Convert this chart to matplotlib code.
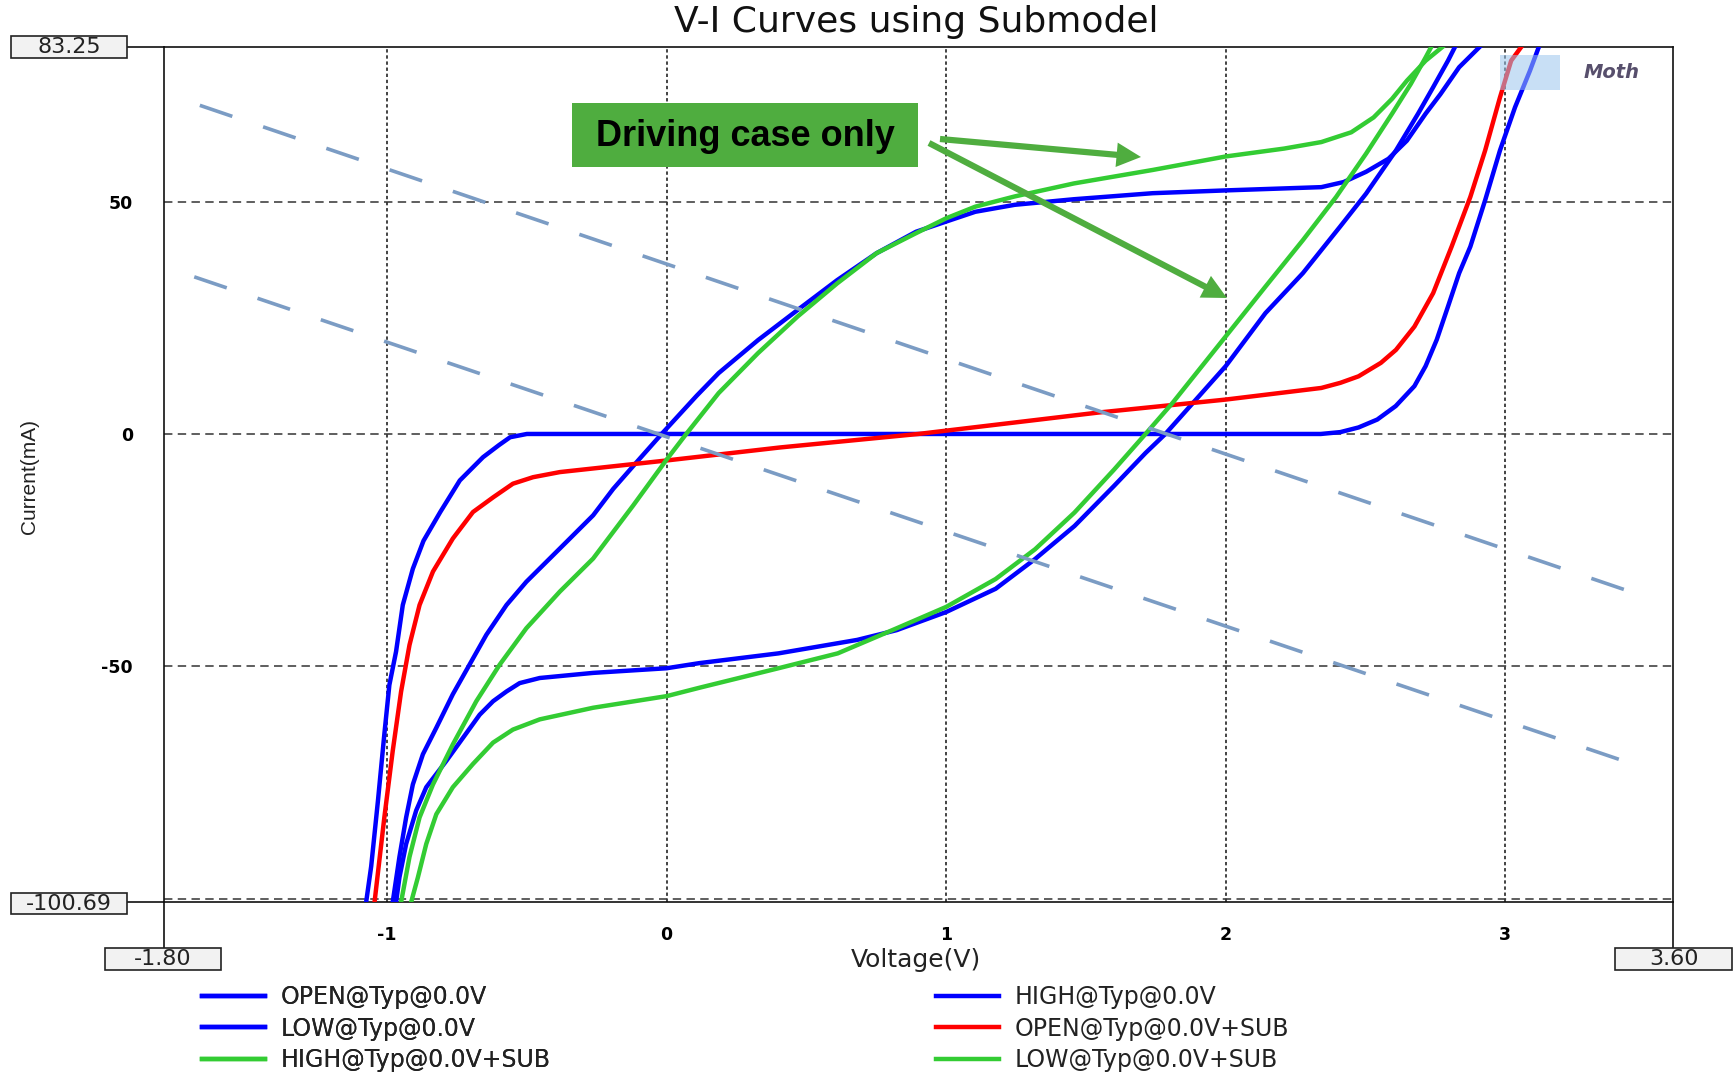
import matplotlib
matplotlib.use("Agg")
import matplotlib.pyplot as plt
from matplotlib.patches import Rectangle, FancyArrowPatch
from matplotlib.lines import Line2D

# ---------------- data ----------------
open_v = [-1.075, -1.057, -1.033, -1.01, -0.992, -0.968, -0.944, -0.908, -0.87, -0.81, -0.74, -0.657,
          -0.60, -0.56, -0.50, 0.0, 1.0, 2.0, 2.34, 2.41, 2.475, 2.542, 2.608, 2.675, 2.715, 2.755, 2.795,
          2.835, 2.875, 2.928, 2.981, 3.035, 3.088, 3.12]
open_i = [-100.7, -93, -79, -64.6, -54, -46.8, -36.8, -29, -23, -16.8, -10, -5,
          -2.4, -0.7, 0, 0, 0, 0, 0, 0.4, 1.4, 3.1, 6, 10.3, 14.6, 20.3, 27.4,
          34.6, 40.3, 50.3, 61, 70.3, 78.1, 83.25]

low_v = [-0.98, -0.956, -0.932, -0.908, -0.872, -0.824, -0.765, -0.705, -0.645, -0.573, -0.502, -0.43,
         -0.358, -0.263, -0.191, -0.108, -0.018, 0.107, 0.186, 0.327, 0.469, 0.61, 0.751, 0.892, 1.0,
         1.104, 1.245, 1.457, 1.739, 2.0, 2.342, 2.422, 2.502, 2.582, 2.648, 2.715, 2.768, 2.835, 2.908]
low_i = [-100.7, -91, -82.5, -75.4, -68.9, -63.2, -56, -49.6, -43.2, -36.8, -31.8, -27.5,
         -23.2, -17.5, -11.8, -6.1, 0, 8.2, 13.1, 20.2, 26.7, 33.1, 38.9, 43.5, 45.7,
         47.8, 49.3, 50.5, 51.8, 52.4, 53.1, 54.2, 56.4, 59.2, 63.1, 68.9, 73.1, 78.9, 83.25]

high_v = [-0.968, -0.956, -0.932, -0.896, -0.86, -0.789, -0.729, -0.669, -0.621, -0.573, -0.526, -0.454,
          -0.263, 0.0, 0.117, 0.4, 0.682, 0.823, 1.0, 1.177, 1.318, 1.459, 1.6, 1.713, 1.784, 2.0,
          2.142, 2.276, 2.409, 2.502, 2.609, 2.688, 2.742, 2.795, 2.82]
high_i = [-100.7, -95.4, -88.2, -81, -76, -70.4, -65.4, -60.4, -57.5, -55.4, -53.6, -52.5,
          -51.4, -50.4, -49.3, -47.2, -44.3, -42.2, -38.3, -33.3, -26.9, -19.8, -11.2, -4.1, 0, 14.6,
          26, 34.6, 44.6, 51.7, 61, 68.9, 74.6, 80.3, 83.25]

open_sub_v = [-1.045, -1.01, -0.98, -0.95, -0.92, -0.884, -0.836, -0.765, -0.693, -0.62, -0.55, -0.478,
              -0.382, 0.0, 0.406, 0.9, 1.543, 2.0, 2.342, 2.41, 2.475, 2.555, 2.609, 2.675, 2.742,
              2.808, 2.875, 2.928, 2.981, 3.021, 3.057]
open_sub_i = [-100.7, -82.5, -68.2, -55.4, -45.4, -36.8, -29.6, -22.5, -16.8, -13.6, -10.7, -9.3,
              -8.2, -5.7, -2.9, 0, 4.6, 7.4, 9.9, 11, 12.4, 15.3, 18.1, 23.1, 30.3,
              40.3, 51, 61, 72.4, 80.3, 83.25]

high_sub_v = [-0.914, -0.89, -0.86, -0.824, -0.765, -0.693, -0.621, -0.55, -0.454, -0.263, 0.0, 0.117,
              0.4, 0.612, 0.823, 1.0, 1.177, 1.318, 1.459, 1.6, 1.713, 1.81, 2.0, 2.142, 2.276,
              2.395, 2.502, 2.595, 2.662, 2.715, 2.735]
high_sub_i = [-100.7, -95.4, -88.2, -81.8, -76, -71, -66.4, -63.6, -61.4, -58.9, -56.4, -54.6,
              -50.4, -47.2, -41.8, -37.2, -31.2, -24.8, -16.9, -7.7, 0, 6.7, 21, 31.7, 41.7,
              51, 60.3, 68.9, 75.3, 81, 83.25]

low_sub_v = [-0.95, -0.92, -0.884, -0.836, -0.765, -0.681, -0.597, -0.502, -0.382, -0.263, -0.12, 0.0,
             0.07, 0.186, 0.327, 0.469, 0.61, 0.751, 0.892, 1.0, 1.104, 1.245, 1.457, 1.739, 2.0,
             2.209, 2.342, 2.449, 2.529, 2.595, 2.648, 2.715, 2.775]
low_sub_i = [-100.7, -91, -82.5, -75.4, -66.8, -57.5, -49.6, -41.8, -33.9, -26.8, -15.4, -5.5,
             0, 8.8, 17.4, 25.3, 32.4, 38.9, 43.2, 46.4, 48.9, 51.1, 53.9, 56.8, 59.7,
             61.4, 62.8, 64.9, 68.1, 72.1, 76, 80.3, 83.25]

# load lines (50 ohm)
load1_v = [-1.67, 3.51]
load1_i = [70.7, -35.2]
load2_v = [-1.69, 3.51]
load2_i = [33.8, -72.1]

labels = ["OPEN@Typ@0.0V", "LOW@Typ@0.0V", "HIGH@Typ@0.0V+SUB",
          "HIGH@Typ@0.0V", "OPEN@Typ@0.0V+SUB", "LOW@Typ@0.0V+SUB"]
xticks = [-1, 0, 1, 2, 3]
yticks = [-100, -50, 0, 50]
ytick_labels = ["", "-50", "0", "50"]
xmin, xmax = -1.80, 3.60
ymin, ymax = -100.69, 83.25

BLUE, RED, GREEN = "#0000ff", "#ff0000", "#33cc33"
ANN = "#4fad3f"
DASH = "#7b9cc4"

W, H = 1735, 1073
def fx(x): return x / W
def fy(y): return 1 - y / H

fig = plt.figure(figsize=(W / 100, H / 100), dpi=100)
ax = fig.add_axes([fx(163.5), fy(902), fx(1673) - fx(163.5), fy(47) - fy(902)])
ax.set_xlim(xmin, xmax)
ax.set_ylim(ymin, ymax)

# grid
for xv in xticks:
    ax.axvline(xv, color="#111111", lw=1.1, dashes=(2.2, 1.8), zorder=1)
for yv in yticks:
    ax.axhline(yv, color="#333333", lw=1.1, dashes=(5.5, 3.5), zorder=1)

# logo (decorative)
fig.add_artist(Rectangle((fx(1500), fy(90)), 60 / W, 35 / H, transform=fig.transFigure,
                         facecolor="#9cc6ee", edgecolor="none", alpha=0.55, zorder=2))

series = [
    (open_v, open_i, BLUE, labels[0]),
    (low_v, low_i, BLUE, labels[1]),
    (high_sub_v, high_sub_i, GREEN, labels[2]),
    (high_v, high_i, BLUE, labels[3]),
    (open_sub_v, open_sub_i, RED, labels[4]),
    (low_sub_v, low_sub_i, GREEN, labels[5]),
]
handles = {}
draw_order = [0, 3, 1, 4, 2, 5]
for k in draw_order:
    v, i, c, lab = series[k]
    ln, = ax.plot(v, i, color=c, lw=3.2, label=lab, zorder=3, solid_joinstyle="round")
    handles[k] = ln

for v, i in [(load1_v, load1_i), (load2_v, load2_i)]:
    ax.plot(v, i, color=DASH, lw=2.6, dashes=(9.5, 9.0), zorder=4, dash_capstyle="butt")

# ticks
ax.set_xticks(xticks)
ax.set_xticklabels([str(t) for t in xticks], fontsize=12.5, fontweight="bold", family="DejaVu Sans")
ax.set_yticks(yticks)
ax.set_yticklabels(ytick_labels, fontsize=12.5, fontweight="bold", family="DejaVu Sans")
ax.tick_params(axis="both", length=0)
ax.tick_params(axis="x", pad=17)
ax.tick_params(axis="y", pad=22)
for s in ax.spines.values():
    s.set_linewidth(1.2)
    s.set_color("#111111")

# title and axis labels
fig.text(fx(916), fy(22), "V-I Curves using Submodel", ha="center", va="center",
         fontsize=26, family="DejaVu Sans", color="#111111")
fig.text(fx(916), fy(960), "Voltage(V)", ha="center", va="center", fontsize=18,
         family="DejaVu Sans", color="#222222")
fig.text(fx(30), fy(476), "Current(mA)", ha="center", va="center", fontsize=15,
         family="Liberation Sans", rotation=90, color="#222222")

# limit boxes and connectors
def box(cx, cy, w, h, txt):
    fig.add_artist(Rectangle((fx(cx - w / 2), fy(cy + h / 2)), w / W, h / H,
                             transform=fig.transFigure, facecolor="#f2f2f2",
                             edgecolor="#222222", lw=1.2, zorder=5))
    fig.text(fx(cx), fy(cy), txt, ha="center", va="center", fontsize=16,
             family="DejaVu Sans", color="#222222", zorder=6)

def seg(x0, y0, x1, y1):
    fig.add_artist(Line2D([fx(x0), fx(x1)], [fy(y0), fy(y1)], transform=fig.transFigure,
                          color="#111111", lw=1.2))

seg(127, 47, 163.5, 47)
seg(127, 902, 163.5, 902)
seg(163.5, 902, 163.5, 948)
seg(1673, 902, 1673, 948)
box(69, 47, 116, 21, f"{ymax:.2f}")
box(69, 903.5, 116, 21, f"{ymin:.2f}")
box(163, 959, 116, 22, f"{xmin:.2f}")
box(1673.5, 959, 117, 22, f"{xmax:.2f}")

# legend (two columns)
h = [handles[k] for k in range(6)]
legs = []
for hs, ls, x0 in [(h[:3], labels[:3], 202), (h[3:], labels[3:], 936)]:
    lg = fig.legend(hs, ls, loc="upper left", bbox_to_anchor=(fx(x0), fy(985)),
                    frameon=False, handlelength=2.65, handletextpad=0.7,
                    labelspacing=0.32, borderpad=0, borderaxespad=0,
                    prop={"family": "DejaVu Sans", "size": 17})
    for t in lg.get_texts():
        t.set_color("#222222")
    for l in lg.get_lines():
        l.set_linewidth(3.2)
    legs.append(lg)
fig.add_artist(legs[0])

# annotation
fig.add_artist(Rectangle((fx(572), fy(167)), (918 - 572) / W, (167 - 103) / H,
                         transform=fig.transFigure, facecolor=ANN, edgecolor="none", zorder=7))
fig.text(fx(745), fy(136), "Driving case only", ha="center", va="center", fontsize=26,
         fontweight="bold", family="Liberation Sans", color="black", zorder=8)
for (x0, y0, x1, y1) in [(940, 139, 1141, 157), (929, 143, 1227, 298)]:
    fig.add_artist(FancyArrowPatch((fx(x0), fy(y0)), (fx(x1), fy(y1)),
                                   transform=fig.transFigure,
                                   arrowstyle="simple,head_length=1.1,head_width=1.1,tail_width=0.28",
                                   mutation_scale=16, color=ANN, lw=0, zorder=8,
                                   shrinkA=0, shrinkB=0))

# logo text
fig.text(fx(1612), fy(72), "Moth", ha="center", va="center", fontsize=14, fontweight="bold",
         style="italic", family="DejaVu Sans", color="#3a3052", alpha=0.85)

fig.savefig("out.png", dpi=100)
